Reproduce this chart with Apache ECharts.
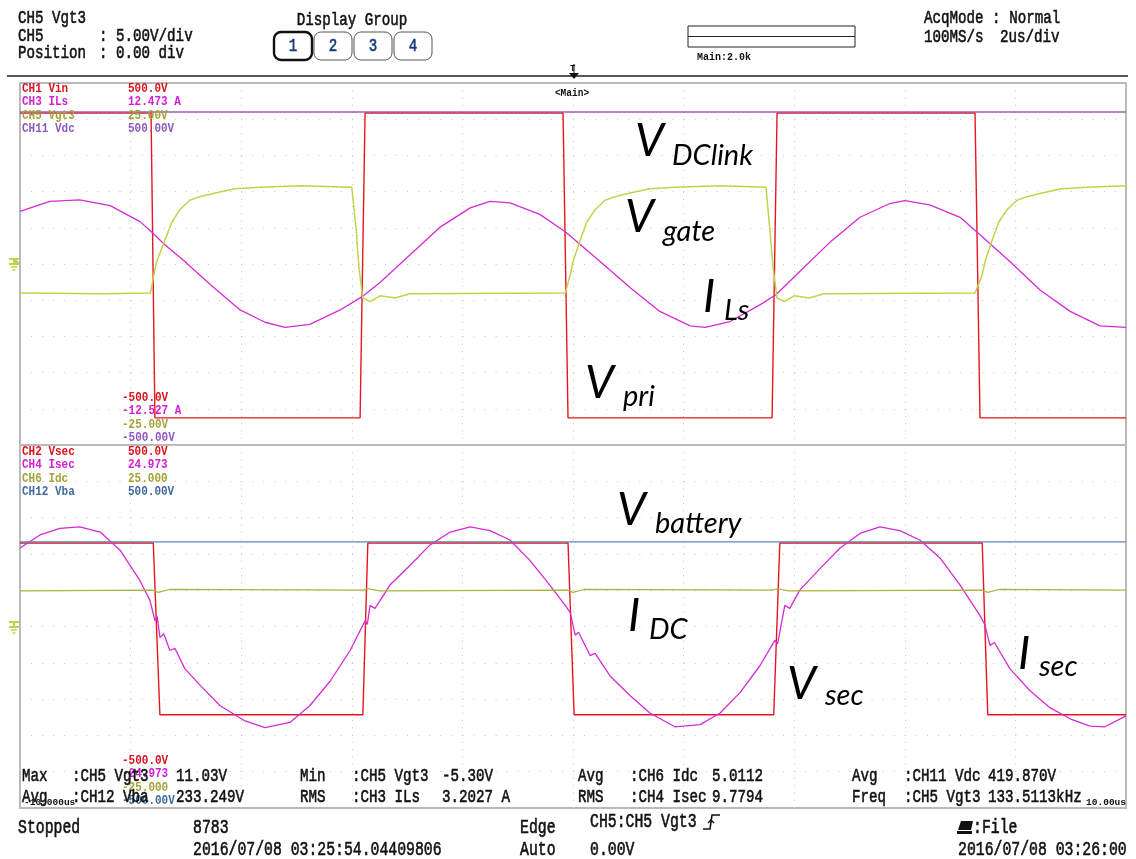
<!DOCTYPE html>
<html>
<head>
<meta charset="utf-8">
<title>DAB converter waveforms</title>
<script src="https://cdn.jsdelivr.net/npm/echarts@6/dist/echarts.min.js"></script>
<style>
  html, body { margin: 0; padding: 0; background: #fff; }
  #scope { width: 1136px; height: 859px; }
</style>
</head>
<body>
<div id="scope"></div>
<script>
// ---- acquisition window (µs) ----
const timeSpan = [-10, 10];
const timeDiv = 2;

// ---- upper zone: primary side ----
// CH1 Vin (V)
const vPri = [[-10, 417], [-7.63, 417], [-7.56, -425], [-3.85, -425], [-3.76, 417], [-0.18, 417],
  [-0.09, -425], [3.60, -425], [3.69, 417], [7.27, 417], [7.36, -425], [10, -425]];
// CH11 Vdc (V)
const vDclink = [[-10, 419.9], [10, 419.9]];
// CH5 Vgt3 (V)
const vGate = [[-10, -4.0], [-8.5, -4.1], [-7.64, -4.0], [-7.58, -1.5], [-7.53, 0.3], [-7.38, 3.3], [-7.25, 5.8],
  [-7.11, 7.5], [-6.93, 8.8], [-6.75, 9.3], [-6.47, 9.8], [-6.11, 10.4], [-5.66, 10.6], [-4.94, 10.8],
  [-4.00, 10.6], [-3.92, 4.7], [-3.87, -0.6], [-3.80, -4.7], [-3.67, -5.2], [-3.49, -4.4], [-3.22, -4.7],
  [-2.95, -4.1], [-0.14, -4.0], [-0.05, -1.5], [0.0, 0.3], [0.13, 3.3], [0.25, 5.8], [0.40, 7.5],
  [0.58, 8.8], [0.76, 9.3], [1.03, 9.8], [1.39, 10.4], [1.84, 10.6], [2.66, 10.8], [3.49, 10.6],
  [3.56, 4.7], [3.62, -0.6], [3.69, -4.7], [3.82, -5.2], [4.00, -4.4], [4.27, -4.7], [4.54, -4.1],
  [7.27, -4.0], [7.40, -1.5], [7.45, 0.3], [7.58, 3.3], [7.70, 5.8], [7.85, 7.5], [8.03, 8.8],
  [8.21, 9.3], [8.48, 9.8], [8.84, 10.4], [9.29, 10.6], [10, 10.8]];
// CH3 ILs (A)
const iLs = [[-10, 3.6], [-9.46, 4.3], [-8.92, 4.4], [-8.37, 4.0], [-7.83, 2.9], [-7.61, 2.15], [-7.38, 1.3],
  [-7.02, 0.15], [-6.56, -1.45], [-6.02, -3.2], [-5.57, -4.05], [-5.21, -4.4], [-4.76, -4.2], [-4.21, -3.2],
  [-3.82, -2.3], [-3.49, -1.3], [-2.95, 0.6], [-2.41, 2.5], [-1.86, 3.85], [-1.50, 4.3], [-1.14, 4.2],
  [-0.60, 3.4], [-0.14, 2.2], [0.49, 0.15], [1.03, -1.65], [1.57, -3.3], [2.12, -4.3], [2.39, -4.4],
  [2.84, -4.0], [3.38, -2.85], [3.67, -2.15], [4.10, -0.55], [4.64, 1.45], [5.19, 3.2], [5.73, 4.15],
  [6.00, 4.35], [6.45, 4.05], [7.00, 3.2], [7.36, 2.0], [7.90, 0.15], [8.44, -1.8], [8.99, -3.3],
  [9.53, -4.3], [10, -4.4]];

// ---- lower zone: secondary side ----
// CH2 Vsec (V)
const vSec = [[-10, 230], [-7.59, 230], [-7.47, -243], [-3.80, -243], [-3.71, 230], [-0.09, 230],
  [0.02, -243], [3.63, -243], [3.74, 230], [7.40, 230], [7.50, -243], [10, -243]];
// CH12 Vba (V)
const vBattery = [[-10, 233.2], [10, 233.2]];
// CH6 Idc (A)
const iDc = [[-10, 4.9], [-7.6, 5.0], [-7.5, 4.7], [-7.3, 5.1], [-3.8, 5.0], [-3.7, 5.2], [-3.5, 4.9],
  [-0.1, 5.0], [0.0, 4.7], [0.2, 5.1], [3.6, 5.0], [3.7, 5.2], [3.9, 4.9], [7.4, 5.0], [7.5, 4.7],
  [7.7, 5.1], [10, 5.0]];
// CH4 Isec (A)
const iSec = [[-10, 10.8], [-9.64, 12.6], [-9.28, 13.5], [-8.92, 13.7], [-8.55, 13.0], [-8.19, 10.5],
  [-7.83, 6.3], [-7.65, 3.6], [-7.56, 0.8], [-7.52, 1.4], [-7.47, -1.5], [-7.40, -1.0], [-7.29, -3.3],
  [-7.20, -3.0], [-7.02, -5.8], [-6.74, -8.1], [-6.38, -10.9], [-5.93, -13.0], [-5.57, -13.9],
  [-5.12, -13.2], [-4.76, -10.9], [-4.39, -7.5], [-4.03, -3.3], [-3.76, 0.8], [-3.72, 0.3], [-3.67, 2.9],
  [-3.58, 2.5], [-3.31, 5.7], [-2.95, 8.4], [-2.59, 11.2], [-2.22, 13.0], [-1.86, 13.7], [-1.50, 13.2],
  [-1.14, 11.9], [-0.78, 9.1], [-0.42, 5.7], [-0.14, 2.9], [-0.05, 1.9], [0.04, -1.2], [0.10, -0.8],
  [0.31, -4.0], [0.40, -3.7], [0.67, -6.8], [1.03, -9.5], [1.39, -11.9], [1.84, -13.8], [2.30, -13.5],
  [2.66, -11.9], [3.02, -9.1], [3.38, -5.4], [3.65, -1.9], [3.70, -2.4], [3.83, 2.9], [3.92, 2.5],
  [4.10, 5.0], [4.47, 8.0], [4.83, 10.8], [5.19, 12.8], [5.55, 13.7], [5.91, 13.2], [6.27, 11.9],
  [6.64, 9.4], [7.00, 5.7], [7.36, 1.5], [7.45, 0.2], [7.54, -2.6], [7.62, -2.2], [7.90, -5.8],
  [8.26, -8.8], [8.63, -11.2], [8.99, -12.7], [9.35, -13.7], [9.62, -13.8], [10, -12.3]];

// ---- on-screen readouts ----
const upperScale = [
  ['CH1 Vin', '500.0V', '-500.0V', '#d8141c'],
  ['CH3 ILs', '12.473 A', '-12.527 A', '#d21fd2'],
  ['CH5 Vgt3', '25.00V', '-25.00V', '#a3a336'],
  ['CH11 Vdc', '500.00V', '-500.00V', '#9058bf']
];
const lowerScale = [
  ['CH2 Vsec', '500.0V', '-500.0V', '#d8141c'],
  ['CH4 Isec', '24.973', '-24.973', '#d21fd2'],
  ['CH6 Idc', '25.000', '-25.000', '#a3a336'],
  ['CH12 Vba', '500.00V', '-500.00V', '#3f6c9c']
];
const measurements = [
  ['Max', ':CH5 Vgt3', '11.03V', 'Min', ':CH5 Vgt3', '-5.30V', 'Avg', ':CH6 Idc', '5.0112', 'Avg', ':CH11 Vdc', '419.870V'],
  ['Avg', ':CH12 Vba', '233.249V', 'RMS', ':CH3 ILs', '3.2027 A', 'RMS', ':CH4 Isec', '9.7794', 'Freq', ':CH5 Vgt3', '133.5113kHz']
];
const annotations = [
  ['V', 'DClink'], ['V', 'gate'], ['I', 'Ls'], ['V', 'pri'],
  ['V', 'battery'], ['I', 'DC'], ['V', 'sec'], ['I', 'sec']
];

const TRACE = {
  red: '#e5161f', magenta: '#d52bd5', yellow: '#c3d24a', olive: '#a9b43c', purple: '#9a5cc4', blue: '#5b87b3'
};

const MONO = '"Liberation Mono", "DejaVu Sans Mono", monospace';
const LABEL = 'Lato, "Open Sans", "Liberation Sans", sans-serif';

function txt(x, y, text, o) {
  o = o || {};
  const style = {
    text: text,
    font: (o.weight || 'normal') + ' ' + (o.size || 14) + 'px ' + (o.family || MONO),
    fill: o.color || '#111',
    align: o.align || 'left', verticalAlign: 'middle',
    textAlign: o.align || 'left', textVerticalAlign: 'middle'
  };
  if (o.stroke) { style.stroke = o.color || '#111'; style.lineWidth = o.stroke; }
  return { type: 'text', x: x, y: y, z: o.z || 50, scaleX: o.sx || 1, scaleY: o.sy || 1, style: style };
}
function scopeText(x, y, text, o) {
  o = Object.assign({ size: 14.2, sy: 1.32, stroke: 0.45 }, o || {});
  return txt(x, y, text, o);
}
function chanText(x, y, text, color) {
  return txt(x, y, text, { size: 11, weight: 'bold', sy: 1.15, color: color, z: 40 });
}

const graphics = [];

// header
graphics.push(scopeText(18, 18, 'CH5 Vgt3'));
graphics.push(scopeText(18, 36, 'CH5'));
graphics.push(scopeText(99, 36, ': 5.00V/div'));
graphics.push(scopeText(18, 53, 'Position'));
graphics.push(scopeText(99, 53, ': 0.00 div'));
graphics.push(scopeText(352, 20, 'Display Group', { align: 'center' }));
['1', '2', '3', '4'].forEach(function (n, i) {
  const x0 = 274 + i * 40;
  graphics.push({
    type: 'rect', shape: { x: x0, y: 32, width: 38, height: 28, r: 7 },
    style: { fill: '#fff', stroke: i === 0 ? '#111' : '#555', lineWidth: i === 0 ? 2.4 : 1 }, z: 45
  });
  graphics.push(scopeText(x0 + 19, 46, n, { align: 'center', color: '#173a78', z: 46 }));
});
graphics.push({
  type: 'rect', shape: { x: 688, y: 26, width: 167, height: 21 },
  style: { fill: '#fff', stroke: '#222', lineWidth: 1 }, z: 45
});
graphics.push({ type: 'line', shape: { x1: 688, y1: 36.5, x2: 855, y2: 36.5 }, style: { stroke: '#222', lineWidth: 1 }, z: 46 });
graphics.push(txt(697, 57, 'Main:2.0k', { size: 10, weight: 'bold', sy: 1.15 }));
graphics.push(scopeText(924, 18, 'AcqMode : Normal'));
graphics.push(scopeText(924, 37, '100MS/s'));
graphics.push(scopeText(1000, 37, '2us/div'));

// top rule and trigger marker
graphics.push({ type: 'line', shape: { x1: 7, y1: 76, x2: 1128, y2: 76 }, style: { stroke: '#555', lineWidth: 2 }, z: 30 });
graphics.push(txt(570, 69, 'T', { size: 9, weight: 'bold' }));
graphics.push({ type: 'line', shape: { x1: 574, y1: 64, x2: 574, y2: 77 }, style: { stroke: '#111', lineWidth: 1 }, z: 31 });
graphics.push({ type: 'polygon', shape: { points: [[569, 73], [579, 73], [574, 79]] }, style: { fill: '#111' }, z: 31 });
graphics.push(txt(572, 93, '<Main>', { size: 9.5, weight: 'bold', align: 'center', sy: 1.15 }));

// channel scale readouts
upperScale.forEach(function (r, i) {
  graphics.push(chanText(22, 89 + i * 13.3, r[0], r[3]));
  graphics.push(chanText(128, 89 + i * 13.3, r[1], r[3]));
  graphics.push(chanText(122, 398 + i * 13.3, r[2], r[3]));
});
lowerScale.forEach(function (r, i) {
  graphics.push(chanText(22, 452 + i * 13.3, r[0], r[3]));
  graphics.push(chanText(128, 452 + i * 13.3, r[1], r[3]));
  graphics.push(chanText(122, 761 + i * 13.3, r[2], r[3]));
});

// ground markers
function ground(y) {
  const c = '#c3d24a';
  return [
    { type: 'line', shape: { x1: 9, y1: y - 5, x2: 19, y2: y - 5 }, style: { stroke: c, lineWidth: 2 }, z: 35 },
    { type: 'line', shape: { x1: 14, y1: y - 5, x2: 14, y2: y }, style: { stroke: c, lineWidth: 2 }, z: 35 },
    { type: 'line', shape: { x1: 9, y1: y, x2: 19, y2: y }, style: { stroke: c, lineWidth: 2 }, z: 35 },
    { type: 'line', shape: { x1: 11, y1: y + 3, x2: 17, y2: y + 3 }, style: { stroke: c, lineWidth: 1.5 }, z: 35 },
    { type: 'line', shape: { x1: 12.5, y1: y + 6, x2: 15.5, y2: y + 6 }, style: { stroke: c, lineWidth: 1.5 }, z: 35 }
  ];
}
graphics.push.apply(graphics, ground(264));
graphics.push({ type: 'polygon', shape: { points: [[14, 258], [20, 263], [14, 263]] }, style: { fill: '#c3d24a' }, z: 35 });
graphics.push.apply(graphics, ground(627));

// measurement block
const colX = [[22, 72, 176], [300, 352, 442], [578, 630, 712], [852, 904, 988]];
measurements.forEach(function (row, r) {
  const y = 776 + r * 21;
  for (let c = 0; c < 4; c++) {
    graphics.push(scopeText(colX[c][0], y, row[c * 3], { z: 55 }));
    graphics.push(scopeText(colX[c][1], y, row[c * 3 + 1], { z: 55 }));
    graphics.push(scopeText(colX[c][2], y, row[c * 3 + 2], { z: 55 }));
  }
});
graphics.push(txt(24, 803, '-10.000us', { size: 9.5, weight: 'bold', z: 54 }));
graphics.push(txt(1126, 803, '10.00us', { size: 9.5, weight: 'bold', align: 'right', z: 54 }));

// status line
graphics.push(scopeText(18, 828, 'Stopped', { size: 14.8 }));
graphics.push(scopeText(193, 828, '8783', { size: 14.8 }));
graphics.push(scopeText(193, 850, '2016/07/08 03:25:54.04409806', { size: 14.8 }));
graphics.push(scopeText(520, 828, 'Edge', { size: 14.8 }));
graphics.push(scopeText(520, 850, 'Auto', { size: 14.8 }));
graphics.push(scopeText(590, 822, 'CH5:CH5 Vgt3', { size: 14.8 }));
graphics.push({ type: 'polyline', shape: { points: [[703, 829], [710, 829], [712, 815], [720, 815]] }, style: { stroke: '#111', lineWidth: 1.6, fill: null }, z: 50 });
graphics.push({ type: 'polyline', shape: { points: [[708, 823], [711, 820], [714, 823]] }, style: { stroke: '#111', lineWidth: 1.4, fill: null }, z: 50 });
graphics.push(scopeText(590, 850, '0.00V', { size: 14.8 }));
graphics.push({ type: 'polygon', shape: { points: [[961, 821], [973, 821], [971, 830], [958, 830]] }, style: { fill: '#111' }, z: 50 });
graphics.push({ type: 'rect', shape: { x: 957, y: 831, width: 15, height: 3 }, style: { fill: '#111' }, z: 50 });
graphics.push(scopeText(973, 828, ':File', { size: 14.8 }));
graphics.push(scopeText(958, 850, '2016/07/08 03:26:00', { size: 14.8 }));

// waveform annotations: symbol position and subscript offset
const annPos = [
  [635, 141, 37, 15], [625, 217, 38, 15], [703, 297, 21, 14], [585, 383, 38, 14],
  [617, 510, 38, 14], [628, 616, 21, 14], [787, 684, 38, 12], [1018, 654, 21, 13]
];
annotations.forEach(function (a, i) {
  const p = annPos[i];
  graphics.push(txt(p[0], p[1], a[0], { family: LABEL, size: 46, color: '#000', z: 60, weight: 'italic' }));
  graphics.push(txt(p[0] + p[2], p[1] + p[3], a[1], { family: LABEL, size: 29, color: '#000', z: 60, weight: 'italic' }));
});

const gridLine = '#c4c4c4';
function xAxisFor(gi) {
  return {
    type: 'value', gridIndex: gi, min: timeSpan[0], max: timeSpan[1], interval: timeDiv,
    axisLine: { show: false }, axisTick: { show: false }, axisLabel: { show: false },
    splitLine: { show: true, lineStyle: { color: gridLine, width: 1, type: [1, 6.24] } }
  };
}
function yAxisFor(gi, lo, hi, grid) {
  return {
    type: 'value', gridIndex: gi, min: lo, max: hi, interval: (hi - lo) / 10,
    axisLine: { show: false }, axisTick: { show: false }, axisLabel: { show: false },
    splitLine: { show: !!grid, lineStyle: { color: gridLine, width: 1, type: [1, 10.06] } }
  };
}
function trace(name, data, yi, xi, color, w) {
  return {
    name: name, type: 'line', data: data, xAxisIndex: xi, yAxisIndex: yi,
    showSymbol: false, symbol: 'none', smooth: false, animation: false,
    lineStyle: { color: color, width: w || 1.3 }, emphasis: { disabled: true }
  };
}

const chart = echarts.init(document.getElementById('scope'), null, { renderer: 'canvas' });
chart.setOption({
  backgroundColor: '#fff',
  animation: false,
  grid: [
    { left: 20, top: 83, width: 1106, height: 362, show: true, borderColor: '#b9b9b9', borderWidth: 2, backgroundColor: 'transparent' },
    { left: 20, top: 445, width: 1106, height: 363, show: true, borderColor: '#b9b9b9', borderWidth: 2, backgroundColor: 'transparent' }
  ],
  xAxis: [xAxisFor(0), xAxisFor(1)],
  yAxis: [
    yAxisFor(0, -500, 500, true),
    yAxisFor(0, -25, 25),
    yAxisFor(0, -12.527, 12.473),
    yAxisFor(1, -500, 500, true),
    yAxisFor(1, -25, 25),
    yAxisFor(1, -24.973, 24.973)
  ],
  series: [
    trace('CH1 Vin', vPri, 0, 0, TRACE.red, 1.4),
    trace('CH3 ILs', iLs, 2, 0, TRACE.magenta),
    trace('CH5 Vgt3', vGate, 1, 0, TRACE.yellow, 1.5),
    trace('CH11 Vdc', vDclink, 0, 0, TRACE.purple, 1.3),
    trace('CH2 Vsec', vSec, 3, 1, TRACE.red, 1.4),
    trace('CH4 Isec', iSec, 5, 1, TRACE.magenta),
    trace('CH6 Idc', iDc, 4, 1, TRACE.olive, 1.2),
    trace('CH12 Vba', vBattery, 3, 1, TRACE.blue, 1.2)
  ],
  graphic: { elements: graphics }
});
</script>
</body>
</html>
